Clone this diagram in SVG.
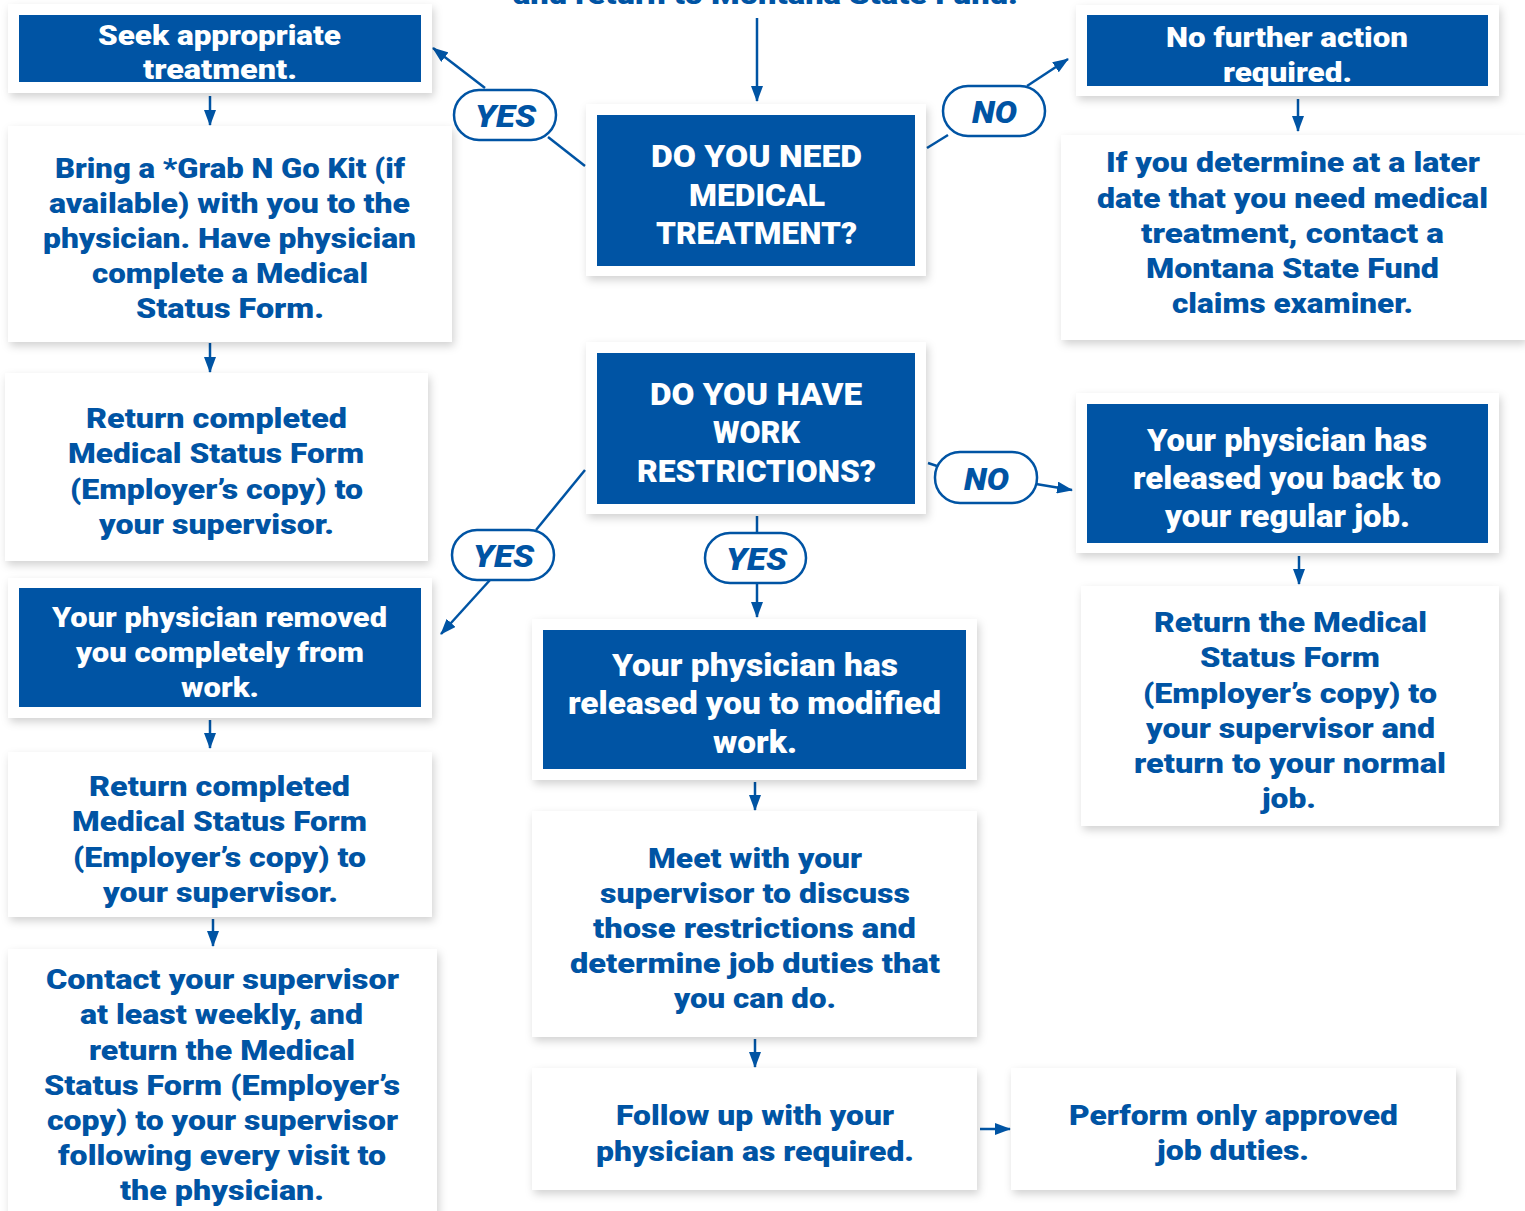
<svg xmlns="http://www.w3.org/2000/svg" width="1525" height="1211" viewBox="0 0 1525 1211">
<defs>
<filter id="sh" x="-10%" y="-10%" width="120%" height="125%">
<feDropShadow dx="2" dy="4" stdDeviation="4" flood-color="#000" flood-opacity="0.18"/>
</filter>
<marker id="ah" markerUnits="userSpaceOnUse" markerWidth="16" markerHeight="12" refX="15" refY="6" orient="auto">
<path d="M0,0 L16,6 L0,12 z" fill="#0054a4"/>
</marker>
</defs>
<style>
.card{fill:#fff;filter:url(#sh)}
.blue{fill:#0054a4}
.t{font-family:Roboto,"Liberation Sans",sans-serif;font-weight:900;font-size:28px;text-anchor:middle;fill:#0054a4}
.w{fill:#fff}
.big{font-size:31px}
.cap{font-size:31px}
.pill{fill:#fff;stroke:#0054a4;stroke-width:2.5}
.pt{font-family:Roboto,"Liberation Sans",sans-serif;font-weight:900;font-style:italic;font-size:32px;text-anchor:middle;fill:#0054a4}
.c{stroke:#0054a4;stroke-width:2.5;fill:none}
.m{marker-end:url(#ah)}
</style>
<rect width="1525" height="1211" fill="#fff"/>
<text class="t" x="765.5" y="4" textLength="505" lengthAdjust="spacingAndGlyphs">and return to Montana State Fund.</text>

<g id="connectors">
<path class="c m" d="M757,18 V101"/>
<path class="c" d="M585,166 L548,137"/>
<path class="c m" d="M485,88 L433,48"/>
<path class="c" d="M927,148 L948,135"/>
<path class="c m" d="M1027,86 L1068,59"/>
<path class="c m" d="M210,96 V125"/>
<path class="c m" d="M210,343 V372"/>
<path class="c" d="M585,470 L536,530"/>
<path class="c m" d="M490,580 L441,634"/>
<path class="c" d="M757,516 V533"/>
<path class="c m" d="M757,583 V617"/>
<path class="c" d="M928,463 L937,466"/>
<path class="c m" d="M1036,484 L1072,490"/>
<path class="c m" d="M210,720 V748"/>
<path class="c m" d="M213,919 V946"/>
<path class="c m" d="M755,782 V810"/>
<path class="c m" d="M755,1039 V1067"/>
<path class="c m" d="M980,1129 H1010"/>
<path class="c m" d="M1298,99 V131"/>
<path class="c m" d="M1299,556 V584"/>
</g>

<g id="pill-yes-1"><rect class="pill" x="454" y="90" width="102" height="50" rx="25"/><text class="pt" x="505.5" y="127" textLength="61" lengthAdjust="spacingAndGlyphs">YES</text></g>
<g id="pill-no-1"><rect class="pill" x="943" y="86" width="102" height="50" rx="25"/><text class="pt" x="994.5" y="123" textLength="45" lengthAdjust="spacingAndGlyphs">NO</text></g>
<g id="pill-yes-2"><rect class="pill" x="452" y="530" width="102" height="50" rx="25"/><text class="pt" x="503.5" y="567" textLength="61" lengthAdjust="spacingAndGlyphs">YES</text></g>
<g id="pill-yes-3"><rect class="pill" x="705" y="533" width="101" height="50" rx="25"/><text class="pt" x="756.5" y="570" textLength="61" lengthAdjust="spacingAndGlyphs">YES</text></g>
<g id="pill-no-2"><rect class="pill" x="935" y="452" width="102" height="51" rx="25"/><text class="pt" x="986.5" y="490" textLength="45" lengthAdjust="spacingAndGlyphs">NO</text></g>

<g id="seek">
<rect class="card" x="8" y="4" width="424" height="89"/>
<rect class="blue" x="19" y="15" width="402" height="67"/>
<text class="t w"><tspan x="219.5" y="45" textLength="243" lengthAdjust="spacingAndGlyphs">Seek appropriate</tspan><tspan x="220" y="79" textLength="154" lengthAdjust="spacingAndGlyphs">treatment.</tspan></text>
</g>

<g id="bring">
<rect class="card" x="8" y="126" width="444" height="216"/>
<text class="t"><tspan x="230" y="178" textLength="350" lengthAdjust="spacingAndGlyphs">Bring a *Grab N Go Kit (if</tspan><tspan x="229.5" y="213" textLength="361" lengthAdjust="spacingAndGlyphs">available) with you to the</tspan><tspan x="229.5" y="248" textLength="373" lengthAdjust="spacingAndGlyphs">physician. Have physician</tspan><tspan x="230" y="283" textLength="276" lengthAdjust="spacingAndGlyphs">complete a Medical</tspan><tspan x="230" y="318" textLength="188" lengthAdjust="spacingAndGlyphs">Status Form.</tspan></text>
</g>

<g id="return1">
<rect class="card" x="5" y="373" width="423" height="188"/>
<text class="t"><tspan x="216.5" y="428" textLength="261" lengthAdjust="spacingAndGlyphs">Return completed</tspan><tspan x="216" y="463" textLength="296" lengthAdjust="spacingAndGlyphs">Medical Status Form</tspan><tspan x="216.5" y="499" textLength="293" lengthAdjust="spacingAndGlyphs">(Employer’s copy) to</tspan><tspan x="216.5" y="534" textLength="235" lengthAdjust="spacingAndGlyphs">your supervisor.</tspan></text>
</g>

<g id="removed">
<rect class="card" x="8" y="578" width="424" height="140"/>
<rect class="blue" x="19" y="588" width="402" height="119"/>
<text class="t w"><tspan x="219.5" y="627" textLength="335" lengthAdjust="spacingAndGlyphs">Your physician removed</tspan><tspan x="220" y="662" textLength="288" lengthAdjust="spacingAndGlyphs">you completely from</tspan><tspan x="220" y="697" textLength="78" lengthAdjust="spacingAndGlyphs">work.</tspan></text>
</g>

<g id="return2">
<rect class="card" x="8" y="752" width="424" height="165"/>
<text class="t"><tspan x="219.5" y="796" textLength="261" lengthAdjust="spacingAndGlyphs">Return completed</tspan><tspan x="219.5" y="831" textLength="295" lengthAdjust="spacingAndGlyphs">Medical Status Form</tspan><tspan x="219.5" y="867" textLength="293" lengthAdjust="spacingAndGlyphs">(Employer’s copy) to</tspan><tspan x="220.5" y="902" textLength="235" lengthAdjust="spacingAndGlyphs">your supervisor.</tspan></text>
</g>

<g id="contact">
<rect class="card" x="8" y="949" width="429" height="280"/>
<text class="t"><tspan x="222.5" y="989" textLength="353" lengthAdjust="spacingAndGlyphs">Contact your supervisor</tspan><tspan x="221.5" y="1024" textLength="283" lengthAdjust="spacingAndGlyphs">at least weekly, and</tspan><tspan x="222" y="1060" textLength="266" lengthAdjust="spacingAndGlyphs">return the Medical</tspan><tspan x="222" y="1095" textLength="356" lengthAdjust="spacingAndGlyphs">Status Form (Employer’s</tspan><tspan x="222.5" y="1130" textLength="351" lengthAdjust="spacingAndGlyphs">copy) to your supervisor</tspan><tspan x="222" y="1165" textLength="328" lengthAdjust="spacingAndGlyphs">following every visit to</tspan><tspan x="222" y="1200" textLength="204" lengthAdjust="spacingAndGlyphs">the physician.</tspan></text>
</g>

<g id="need-treatment">
<rect class="card" x="586" y="104" width="340" height="172"/>
<rect class="blue" x="597" y="115" width="318" height="151"/>
<text class="t w cap"><tspan x="756.5" y="167" textLength="211" lengthAdjust="spacingAndGlyphs">DO YOU NEED</tspan><tspan x="757" y="206" textLength="136" lengthAdjust="spacingAndGlyphs">MEDICAL</tspan><tspan x="756.5" y="244" textLength="201" lengthAdjust="spacingAndGlyphs">TREATMENT?</tspan></text>
</g>

<g id="work-restrictions">
<rect class="card" x="586" y="342" width="340" height="172"/>
<rect class="blue" x="597" y="353" width="318" height="151"/>
<text class="t w cap"><tspan x="756" y="405" textLength="212" lengthAdjust="spacingAndGlyphs">DO YOU HAVE</tspan><tspan x="756.5" y="443" textLength="87" lengthAdjust="spacingAndGlyphs">WORK</tspan><tspan x="756.5" y="482" textLength="239" lengthAdjust="spacingAndGlyphs">RESTRICTIONS?</tspan></text>
</g>

<g id="modified">
<rect class="card" x="532" y="619" width="445" height="161"/>
<rect class="blue" x="543" y="630" width="423" height="139"/>
<text class="t w big"><tspan x="755" y="676" textLength="286" lengthAdjust="spacingAndGlyphs">Your physician has</tspan><tspan x="754.5" y="714" textLength="373" lengthAdjust="spacingAndGlyphs">released you to modified</tspan><tspan x="755" y="753" textLength="84" lengthAdjust="spacingAndGlyphs">work.</tspan></text>
</g>

<g id="meet">
<rect class="card" x="532" y="811" width="445" height="226"/>
<text class="t"><tspan x="755" y="868" textLength="214" lengthAdjust="spacingAndGlyphs">Meet with your</tspan><tspan x="755" y="903" textLength="310" lengthAdjust="spacingAndGlyphs">supervisor to discuss</tspan><tspan x="754.5" y="938" textLength="323" lengthAdjust="spacingAndGlyphs">those restrictions and</tspan><tspan x="755" y="973" textLength="370" lengthAdjust="spacingAndGlyphs">determine job duties that</tspan><tspan x="755" y="1008" textLength="162" lengthAdjust="spacingAndGlyphs">you can do.</tspan></text>
</g>

<g id="follow">
<rect class="card" x="532" y="1068" width="445" height="122"/>
<text class="t"><tspan x="755" y="1125" textLength="278" lengthAdjust="spacingAndGlyphs">Follow up with your</tspan><tspan x="755" y="1161" textLength="318" lengthAdjust="spacingAndGlyphs">physician as required.</tspan></text>
</g>

<g id="perform">
<rect class="card" x="1011" y="1068" width="445" height="122"/>
<text class="t"><tspan x="1233.5" y="1125" textLength="329" lengthAdjust="spacingAndGlyphs">Perform only approved</tspan><tspan x="1233" y="1160" textLength="152" lengthAdjust="spacingAndGlyphs">job duties.</tspan></text>
</g>

<g id="no-further">
<rect class="card" x="1076" y="5" width="423" height="91"/>
<rect class="blue" x="1087" y="15" width="401" height="71"/>
<text class="t w"><tspan x="1287" y="47" textLength="242" lengthAdjust="spacingAndGlyphs">No further action</tspan><tspan x="1287.5" y="82" textLength="129" lengthAdjust="spacingAndGlyphs">required.</tspan></text>
</g>

<g id="later">
<rect class="card" x="1061" y="135" width="464" height="205"/>
<text class="t"><tspan x="1293" y="172" textLength="374" lengthAdjust="spacingAndGlyphs">If you determine at a later</tspan><tspan x="1292.5" y="208" textLength="391" lengthAdjust="spacingAndGlyphs">date that you need medical</tspan><tspan x="1292.5" y="243" textLength="303" lengthAdjust="spacingAndGlyphs">treatment, contact a</tspan><tspan x="1292.5" y="278" textLength="293" lengthAdjust="spacingAndGlyphs">Montana State Fund</tspan><tspan x="1292.5" y="313" textLength="241" lengthAdjust="spacingAndGlyphs">claims examiner.</tspan></text>
</g>

<g id="regular">
<rect class="card" x="1076" y="393" width="423" height="160"/>
<rect class="blue" x="1087" y="404" width="401" height="139"/>
<text class="t w big"><tspan x="1287" y="451" textLength="280" lengthAdjust="spacingAndGlyphs">Your physician has</tspan><tspan x="1287" y="489" textLength="308" lengthAdjust="spacingAndGlyphs">released you back to</tspan><tspan x="1287.5" y="527" textLength="245" lengthAdjust="spacingAndGlyphs">your regular job.</tspan></text>
</g>

<g id="return3">
<rect class="card" x="1081" y="586" width="418" height="240"/>
<text class="t"><tspan x="1290.5" y="632" textLength="273" lengthAdjust="spacingAndGlyphs">Return the Medical</tspan><tspan x="1290" y="667" textLength="180" lengthAdjust="spacingAndGlyphs">Status Form</tspan><tspan x="1290" y="703" textLength="294" lengthAdjust="spacingAndGlyphs">(Employer’s copy) to</tspan><tspan x="1290.5" y="738" textLength="289" lengthAdjust="spacingAndGlyphs">your supervisor and</tspan><tspan x="1290" y="773" textLength="312" lengthAdjust="spacingAndGlyphs">return to your normal</tspan><tspan x="1289" y="808" textLength="54" lengthAdjust="spacingAndGlyphs">job.</tspan></text>
</g>
</svg>
